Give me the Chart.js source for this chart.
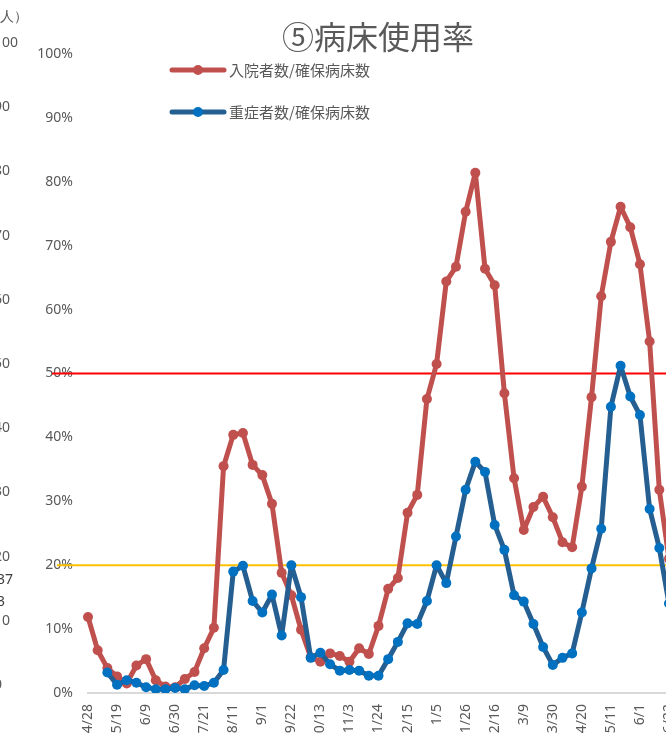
<!DOCTYPE html>
<html>
<head>
<meta charset="utf-8">
<script src="https://cdn.jsdelivr.net/npm/chart.js@4/dist/chart.umd.min.js"></script>
<style>
    html, body { margin: 0; padding: 0; overflow: hidden; background: #fff; }
    #wrap { position: relative; width: 756px; height: 760px; }
</style>
</head>
<body>
<div id="wrap"><canvas id="bed_graph" width="756" height="760"></canvas></div>
<script>
// 週ごとのラベル (3週おきに表示)
const weekLabels = [
    '4/28', '5/5', '5/12', '5/19', '5/26', '6/2', '6/9', '6/16', '6/23', '6/30',
    '7/7', '7/14', '7/21', '7/28', '8/4', '8/11', '8/18', '8/25', '9/1', '9/8',
    '9/15', '9/22', '9/29', '10/6', '10/13', '10/20', '10/27', '11/3', '11/10', '11/17',
    '11/24', '12/1', '12/8', '12/15', '12/22', '12/29', '1/5', '1/12', '1/19', '1/26',
    '2/2', '2/9', '2/16', '2/23', '3/2', '3/9', '3/16', '3/23', '3/30', '4/6',
    '4/13', '4/20', '4/27', '5/4', '5/11', '5/18', '5/25', '6/1', '6/8', '6/15',
    '6/22'
];
// 入院者数/確保病床数 (%)
const inpatientRate = [
    11.9, 6.7, 3.9, 2.6, 1.5, 4.3, 5.3, 2.0, 1.0, 0.9,
    2.2, 3.3, 7.0, 10.2, 35.5, 40.4, 40.7, 35.7, 34.1, 29.6,
    18.8, 15.3, 9.9, 5.6, 4.9, 6.2, 5.8, 4.9, 7.0, 6.1,
    10.5, 16.3, 18.0, 28.2, 31.0, 46.0, 51.5, 64.4, 66.7, 75.3,
    81.4, 66.4, 63.8, 46.9, 33.6, 25.5, 29.1, 30.7, 27.5, 23.6,
    22.8, 32.3, 46.3, 62.1, 70.6, 76.1, 72.9, 67.1, 55.0, 31.8,
    21.0
];
// 重症者数/確保病床数 (%)
const severeRate = [
    null, null, 3.2, 1.3, 2.0, 1.6, 0.9, 0.6, 0.6, 0.8,
    0.6, 1.2, 1.1, 1.6, 3.6, 19.0, 19.9, 14.4, 12.6, 15.4,
    9.0, 20.0, 15.0, 5.5, 6.3, 4.5, 3.5, 3.6, 3.5, 2.7,
    2.7, 5.3, 8.0, 10.9, 10.8, 14.4, 20.0, 17.2, 24.5, 31.8,
    36.2, 34.6, 26.3, 22.4, 15.3, 14.3, 10.8, 7.2, 4.4, 5.5,
    6.2, 12.6, 19.5, 25.7, 44.8, 51.2, 46.4, 43.5, 28.8, 22.7,
    14.0
];
// 基準線 (%)
const thresholdValues = [50, 20];
const thresholdColors = ['#FF0000', '#FFC000'];
// 左隣のグラフの目盛り (切れている)
const leftTickValues = [100, 90, 80, 70, 60, 50, 40, 30, 20, 10, 0];
const leftNoteTexts = ['37', '3'];
const leftNoteValues = [16.4, 12.9];

const titleText = '⑤病床使用率';
const jpFont = '"Noto Sans CJK JP", "Noto Sans", sans-serif';

const extraDraw = {
    id: 'extraDraw',
    beforeDatasetsDraw: function (chart) {
        const ctx = chart.ctx;
        const y = chart.scales.y;
        ctx.save();
        thresholdValues.forEach(function (v, i) {
            const py = y.getPixelForValue(v);
            ctx.strokeStyle = thresholdColors[i];
            ctx.lineWidth = 2;
            ctx.beginPath();
            ctx.moveTo(i === 0 ? 52 : 57, py);
            ctx.lineTo(chart.width, py);
            ctx.stroke();
        });
        ctx.restore();
    },
    afterDraw: function (chart) {
        const ctx = chart.ctx;
        const yl = chart.scales.yLeft;
        ctx.save();
        // タイトル
        ctx.fillStyle = '#595959';
        ctx.font = '32px ' + jpFont;
        ctx.textAlign = 'center';
        ctx.textBaseline = 'middle';
        ctx.fillText(titleText, 378, 37);
        // 凡例
        chart.data.datasets.forEach(function (ds, i) {
            const ly = 70 + i * 42;
            ctx.strokeStyle = ds.borderColor;
            ctx.lineWidth = 5;
            ctx.lineCap = 'round';
            ctx.beginPath();
            ctx.moveTo(172, ly);
            ctx.lineTo(224, ly);
            ctx.stroke();
            ctx.fillStyle = ds.pointBackgroundColor;
            ctx.beginPath();
            ctx.arc(198, ly, 5, 0, Math.PI * 2);
            ctx.fill();
            ctx.fillStyle = '#595959';
            ctx.font = '15px ' + jpFont;
            ctx.textAlign = 'left';
            ctx.fillText(ds.label, 229, ly);
        });
        // 左隣のグラフ
        ctx.font = '14px "Noto Sans", sans-serif';
        ctx.textAlign = 'left';
        ctx.fillStyle = '#595959';
        leftTickValues.forEach(function (v) {
            ctx.fillText(String(v), -6, yl.getPixelForValue(v));
        });
        ctx.fillText('（人）', -14, yl.getPixelForValue(104));
        ctx.fillStyle = '#404040';
        leftNoteTexts.forEach(function (t, i) {
            ctx.fillText(t, -3, yl.getPixelForValue(leftNoteValues[i]));
        });
        ctx.restore();
    }
};

new Chart(document.getElementById('bed_graph'), {
    type: 'line',
    data: {
        labels: weekLabels,
        datasets: [{
            label: '入院者数/確保病床数',
            data: inpatientRate,
            borderColor: '#C0504D',
            backgroundColor: '#C0504D',
            pointBackgroundColor: '#C0504D',
            pointBorderColor: '#C0504D',
            borderWidth: 5,
            borderJoinStyle: 'round',
            borderCapStyle: 'round',
            pointRadius: 5,
            pointBorderWidth: 0,
            tension: 0,
            order: 1
        }, {
            label: '重症者数/確保病床数',
            data: severeRate,
            borderColor: '#255E91',
            backgroundColor: '#0070C0',
            pointBackgroundColor: '#0070C0',
            pointBorderColor: '#0070C0',
            borderWidth: 5,
            borderJoinStyle: 'round',
            borderCapStyle: 'round',
            pointRadius: 5,
            pointBorderWidth: 0,
            tension: 0,
            order: 0
        }]
    },
    options: {
        responsive: false,
        animation: false,
        events: [],
        layout: {
            padding: { top: 54, right: 87, left: 0, bottom: 0 }
        },
        plugins: {
            legend: { display: false },
            title: { display: false },
            tooltip: { enabled: false }
        },
        scales: {
            x: {
                offset: false,
                grid: { display: false, drawTicks: false },
                border: { display: true, color: '#D9D9D9', width: 2 },
                afterFit: function (scale) { scale.height = 67; },
                ticks: {
                    autoSkip: false,
                    maxRotation: 90,
                    minRotation: 90,
                    padding: 11,
                    color: '#595959',
                    font: { size: 14, family: '"Noto Sans", sans-serif' },
                    callback: function (v, i) {
                        return i % 3 === 0 ? weekLabels[i] : '';
                    }
                }
            },
            y: {
                min: 0,
                max: 100,
                grid: { display: false, drawTicks: false },
                border: { display: false },
                afterFit: function (scale) { scale.width = 88; },
                ticks: {
                    stepSize: 10,
                    padding: 15,
                    color: '#595959',
                    font: { size: 14, family: '"Noto Sans", sans-serif' },
                    callback: function (v) { return v + '%'; }
                }
            },
            yLeft: {
                type: 'linear',
                display: false,
                min: -1.25,
                max: 98.3
            }
        }
    },
    plugins: [extraDraw]
});
</script>
</body>
</html>
